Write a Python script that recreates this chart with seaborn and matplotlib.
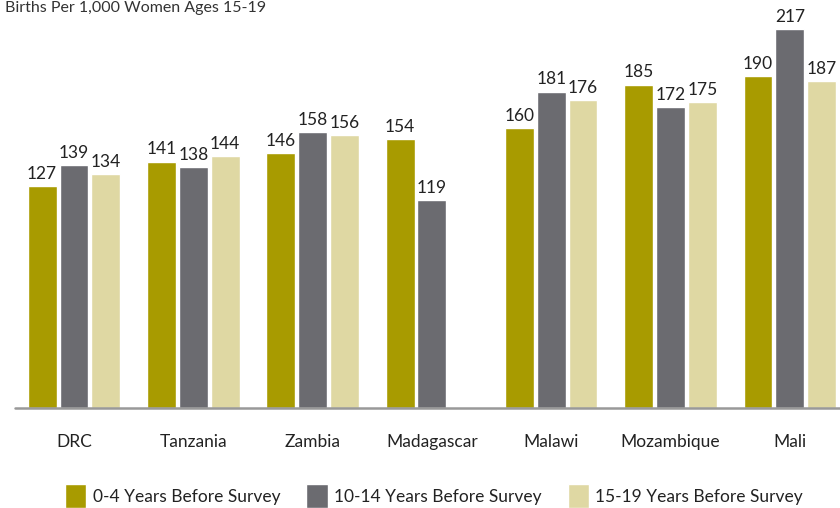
import pandas as pd
import numpy as np
import matplotlib.pyplot as plt
import seaborn as sns
from matplotlib.patches import Patch

# data
countries = ['DRC', 'Tanzania', 'Zambia', 'Madagascar', 'Malawi', 'Mozambique', 'Mali']
series = ['0-4 Years Before Survey', '10-14 Years Before Survey', '15-19 Years Before Survey']
v_0_4 = [127, 141, 146, 154, 160, 185, 190]
v_10_14 = [139, 138, 158, 119, 181, 172, 217]
v_15_19 = [134, 144, 156, np.nan, 176, 175, 187]
colors = ['#A89B00', '#6B6B70', '#DFD8A3']

rows = []
for s, vals in zip(series, [v_0_4, v_10_14, v_15_19]):
    for c, v in zip(countries, vals):
        if not np.isnan(v):
            rows.append({'Country': c, 'Series': s, 'Value': v})
df = pd.DataFrame(rows)

sns.set_theme(style='white')
plt.rcParams['font.family'] = ['Lato', 'DejaVu Sans']

fig = plt.figure(figsize=(8.4, 5.08), dpi=100)
ax = fig.add_axes([0.0, 100 / 508, 1.0, 408 / 508])

sns.barplot(data=df, x='Country', y='Value', hue='Series', order=countries,
            hue_order=series, palette=colors, width=0.8, gap=0.09,
            errorbar=None, legend=False, ax=ax, saturation=1)

for cont in ax.containers:
    ax.bar_label(cont, fmt='%d', padding=3, fontsize=12.5, color='#222222')

# axes spans whole figure width; the last bar runs off the right edge
ax.set_xlim(-74 / 119.3, (840 - 74) / 119.3)
ax.set_ylim(0, 233.4)
ax.plot([(15 - 74) / 119.3, 10], [0, 0], color='#999999', lw=1.8, clip_on=False)
sns.despine(ax=ax, left=True, bottom=True, top=True, right=True)
ax.set_yticks([])
ax.set_xlabel('')
ax.set_ylabel('')
ax.tick_params(axis='x', length=0, pad=19, labelsize=12.5, colors='#222222')

fig.text(0.006, 1 - 12 / 508, 'Births Per 1,000 Women Ages 15-19', fontsize=11.5,
         color='#333333', va='baseline', ha='left')

handles = [Patch(facecolor=c, label=s) for c, s in zip(colors, series)]
fig.legend(handles=handles, loc='center', bbox_to_anchor=(434 / 840, 1 - 496 / 508), ncol=3,
           frameon=False, fontsize=12.5, handlelength=1.25, handleheight=1.8,
           handletextpad=0.35, columnspacing=1.5, labelcolor='#222222',
           borderpad=0, borderaxespad=0)

fig.savefig('out.png', dpi=100)
